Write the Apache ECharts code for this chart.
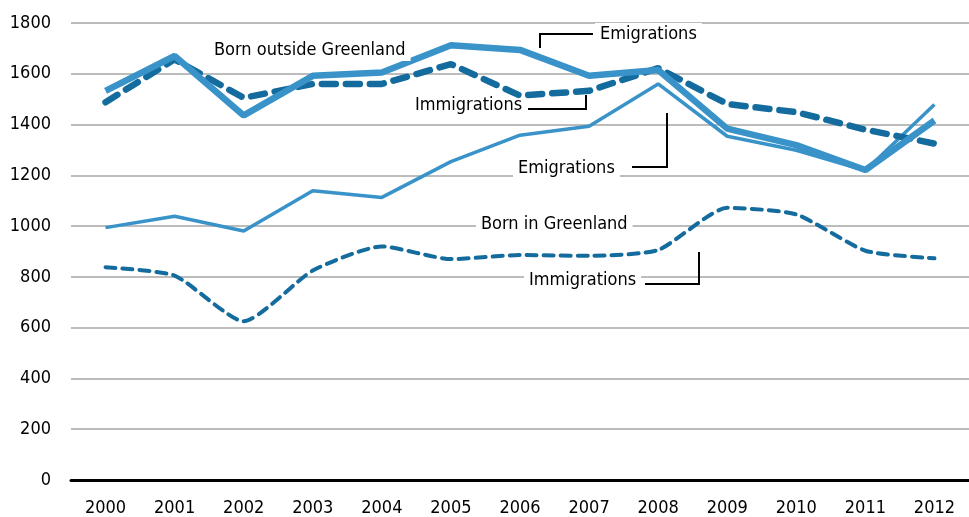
<!DOCTYPE html>
<html>
<head>
<meta charset="utf-8">
<script src="https://cdn.jsdelivr.net/npm/echarts@6/dist/echarts.min.js"></script>
<style>
html,body{margin:0;padding:0;background:#fff;}
#c{width:969px;height:517px;}
</style>
</head>
<body>
<div id="c"></div>
<script>
var years = ['2000','2001','2002','2003','2004','2005','2006','2007','2008','2009','2010','2011','2012'];
var outsideEmigrations = [1533,1670,1436,1592,1605,1712,1694,1592,1615,1384,1319,1221,1416];
var outsideImmigrations = [1488,1657,1505,1560,1560,1638,1514,1533,1622,1481,1449,1380,1325];
var greenlandEmigrations = [994,1039,981,1139,1113,1254,1358,1393,1560,1354,1299,1219,1479];
var greenlandImmigrations = [838,805,625,825,920,870,886,883,906,1072,1046,903,873];
var yTicks = {min:0, max:1800, step:200};

var LIGHT = '#3993c9';
var DARK = '#146b9e';
var FONT = '"DejaVu Sans Condensed", "Liberation Sans", sans-serif';
var FS = 18;

var chart = echarts.init(document.getElementById('c'));

function label(text, x, y, bg) {
  return {
    type:'text', left:x, top:y-12, z:100,
    style:{text:text, fontSize:FS, fontFamily:FONT, fill:'#000',
      backgroundColor: bg ? '#fff' : null, padding: bg ? [2,5,2,5] : 0,
      textVerticalAlign:'top'}
  };
}
function leader(pts) {
  return {type:'polyline', z:100, shape:{points:pts}, style:{stroke:'#000', lineWidth:2, fill:null}};
}

chart.setOption({
  animation:false,
  backgroundColor:'#fff',
  grid:{left:71, top:23, width:906, bottom:34, containLabel:false},
  xAxis:{
    type:'category', data:years, boundaryGap:true,
    axisLine:{show:true, lineStyle:{color:'#000', width:3}},
    axisTick:{show:false},
    axisLabel:{fontSize:FS, fontFamily:FONT, color:'#000', margin:19},
    splitLine:{show:false}
  },
  yAxis:{
    type:'value', min:yTicks.min, max:yTicks.max, interval:yTicks.step,
    axisLine:{show:false}, axisTick:{show:false},
    axisLabel:{fontSize:FS, fontFamily:FONT, color:'#000', margin:20,
      formatter:function(v){return String(v);}},
    splitLine:{lineStyle:{color:'#a6a6a6', width:1.5}}
  },
  series:[
    {name:'Born in Greenland - Immigrations', type:'line', data:greenlandImmigrations, symbol:'none', smooth:0.2,
      lineStyle:{color:DARK, width:4, type:[10,7], cap:'round'}, z:2},
    {name:'Born in Greenland - Emigrations', type:'line', data:greenlandEmigrations, symbol:'none',
      lineStyle:{color:LIGHT, width:3.5}, z:3},
    {name:'Born outside Greenland - Immigrations', type:'line', data:outsideImmigrations, symbol:'none',
      lineStyle:{color:DARK, width:6.5, type:[14,10], cap:'round'}, z:4},
    {name:'Born outside Greenland - Emigrations', type:'line', data:outsideEmigrations, symbol:'none',
      lineStyle:{color:LIGHT, width:6.5}, z:5}
  ],
  graphic:[
    label('Born outside Greenland', 209, 51, true),
    label('Emigrations', 595, 35, true),
    leader([[540,48],[540,34],[593,34]]),
    label('Immigrations', 415, 108, false),
    leader([[528,109],[586,109],[586,95]]),
    label('Emigrations', 513, 169, true),
    leader([[632,167],[667,167],[667,113]]),
    label('Born in Greenland', 476, 225, true),
    label('Immigrations', 524, 281, true),
    leader([[645,284],[699,284],[699,252]])
  ]
});
</script>
</body>
</html>
